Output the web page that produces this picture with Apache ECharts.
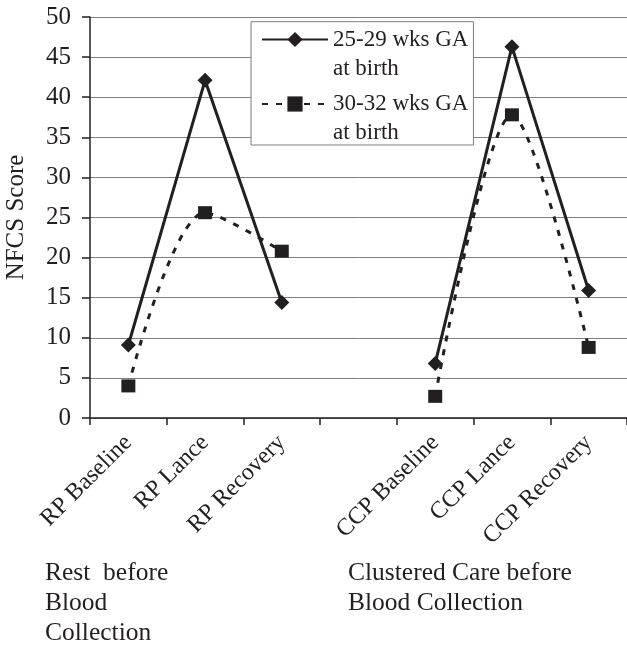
<!DOCTYPE html>
<html>
<head>
<meta charset="utf-8">
<script src="https://cdn.jsdelivr.net/npm/echarts@6/dist/echarts.min.js"></script>
<style>
html,body{margin:0;padding:0;background:#fff;}
#chart{width:627px;height:646px;}
</style>
</head>
<body>
<div id="chart"></div>
<script>
var categories = ['RP Baseline', 'RP Lance', 'RP Recovery', '', 'CCP Baseline', 'CCP Lance', 'CCP Recovery'];
var seriesNames = ['25-29 wks GA\nat birth', '30-32 wks GA\nat birth'];
var group2529 = [9.1, 42.1, 14.4, null, 6.8, 46.3, 15.9];
var group3032 = [4.0, 25.6, 20.8, null, 2.7, 37.8, 8.8];
var yTicks = {min: 0, max: 50, interval: 5};
var groupNotes = ['Rest  before\nBlood\nCollection', 'Clustered Care before\nBlood Collection'];

var ink = '#231f20';
var font = 'Liberation Serif';
var chart = echarts.init(document.getElementById('chart'), null, {renderer: 'canvas'});
chart.setOption({
  animation: false,
  backgroundColor: '#fff',
  textStyle: {fontFamily: font, color: ink},
  grid: {left: 90, right: 0, top: 17, bottom: 228, containLabel: false, outerBoundsMode: 'none'},
  legend: {
    orient: 'vertical',
    left: 251,
    top: 21.7,
    itemWidth: 66,
    itemHeight: 19,
    itemGap: -22.5,
    padding: [-25.7, 5, -2.5, 10],
    backgroundColor: '#fff',
    borderColor: '#7f7f7f',
    borderWidth: 1,
    formatter: function (name) { return '\n' + name; },
    textStyle: {fontFamily: font, fontSize: 23, color: ink, lineHeight: 29},
    data: seriesNames
  },
  xAxis: {
    type: 'category',
    data: categories,
    boundaryGap: true,
    axisLine: {lineStyle: {color: ink, width: 1.5}},
    axisTick: {show: true, length: 7, lineStyle: {color: ink, width: 1.5}},
    axisLabel: {rotate: 45, interval: 0, margin: 21, fontFamily: font, fontSize: 24, color: ink},
    splitLine: {show: false}
  },
  yAxis: {
    type: 'value',
    min: yTicks.min, max: yTicks.max, interval: yTicks.interval,
    name: 'NFCS Score',
    nameLocation: 'middle',
    nameGap: 61,
    nameTextStyle: {fontFamily: font, fontSize: 25, color: ink},
    axisLine: {show: true, lineStyle: {color: ink, width: 1.5}},
    axisTick: {show: true, length: 8, lineStyle: {color: ink, width: 1.5}},
    axisLabel: {margin: 19, fontFamily: font, fontSize: 25, color: ink},
    splitLine: {show: true, lineStyle: {color: '#7f7f7f', width: 1}}
  },
  series: [
    {
      name: seriesNames[0],
      type: 'line',
      data: group2529,
      connectNulls: false,
      symbol: 'diamond',
      symbolSize: [15, 15],
      itemStyle: {color: ink},
      lineStyle: {color: ink, width: 3}
    },
    {
      name: seriesNames[1],
      type: 'line',
      data: group3032,
      connectNulls: false,
      smooth: 0.3,
      symbol: 'rect',
      symbolSize: [14, 13],
      itemStyle: {color: ink},
      lineStyle: {color: ink, width: 3, type: [6, 8]}
    }
  ],
  graphic: [
    {type: 'text', left: 45, top: 558, style: {text: groupNotes[0], font: '25.5px "Liberation Serif"', fill: ink, lineHeight: 30}},
    {type: 'text', left: 348, top: 558, style: {text: groupNotes[1], font: '25.5px "Liberation Serif"', fill: ink, lineHeight: 30}}
  ]
});
</script>
</body>
</html>
